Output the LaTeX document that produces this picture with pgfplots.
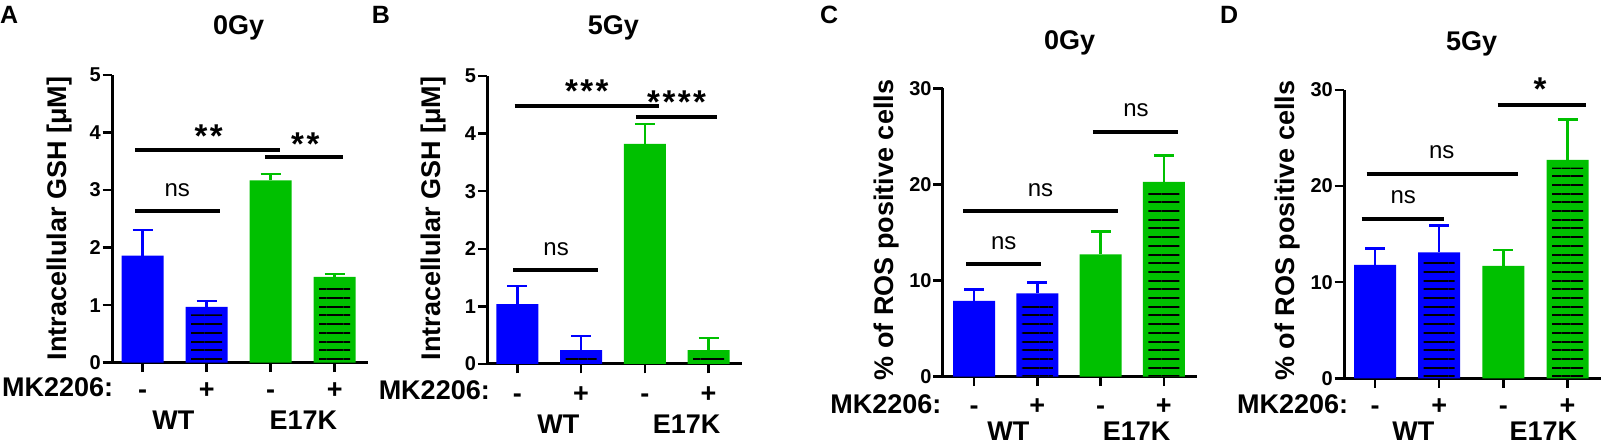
\documentclass[border=0pt]{standalone}
\usepackage{fontspec}
\setmainfont{Liberation Sans}
\usepackage{pgfplots}
\pgfplotsset{compat=1.18}
\usetikzlibrary{patterns.meta}
\definecolor{cblue}{RGB}{0,0,255}
\definecolor{cgreen}{RGB}{0,192,0}
\newcommand{\fs}[1]{\fontsize{#1}{#1}\selectfont}
\tikzset{sig/.style={line width=4pt, black},
  st/.style={font=\fs{33}\bfseries, yshift=-7pt, inner sep=0pt},
  nsl/.style={font=\fs{24}, inner sep=0pt}}
\pgfplotsset{
  panel/.style={
    scale only axis, anchor=south west,
    axis lines*=left, axis line style={line width=3pt},
    ybar, bar width=42pt, bar shift=0pt,
    xtick={1,2,3,4}, xticklabels={-,+,-,+},
    tick align=outside, major tick length=9.5pt,
    tick style={line width=2.5pt, black},
    ymin=0, clip=false,
    /pgf/number format/assume math mode=true,
    yticklabel style={font=\fs{20}\bfseries, inner sep=1.5pt},
    xticklabel style={font=\fs{27}\bfseries, anchor=base, inner sep=0pt},
  },
  bl/.style={fill=cblue, draw=none,
    error bars/.cd, y dir=plus, y explicit,
    error bar style={line width=2.5pt, draw=cblue},
    error mark options={rotate=90, mark size=10pt, line width=2.5pt, draw=cblue}},
  gr/.style={fill=cgreen, draw=none,
    error bars/.cd, y dir=plus, y explicit,
    error bar style={line width=2.5pt, draw=cgreen},
    error mark options={rotate=90, mark size=10pt, line width=2.5pt, draw=cgreen}},
  hatch/.style={bar width=31pt, draw=none, fill=none,
    pattern={Lines[angle=0, distance=8.7pt, line width=2pt]}, pattern color=black,
    y filter/.expression={y-#1}},
}
\begin{document}
\begin{tikzpicture}
\useasboundingbox (0pt,0pt) rectangle (1601pt,446pt);
% ---------- Panel A ----------
\begin{axis}[panel, at={(112pt,83.3pt)}, width=256pt, height=287.7pt,
  xmin=0.52, xmax=4.52, ymax=5, ytick={0,1,2,3,4,5},
  xticklabel style={yshift=-26pt}]
\addplot[bl] coordinates {(1,1.86) +- (0,0.45) (2,0.97) +- (0,0.10)};
\addplot[gr] coordinates {(3,3.17) +- (0,0.11) (4,1.49) +- (0,0.05)};
\addplot[hatch=0.13] coordinates {(2,0.97) (4,1.49)};
\draw[sig] (axis cs:0.88,2.63) -- (axis cs:2.21,2.63);
\draw[sig] (axis cs:0.88,3.70) -- (axis cs:3.15,3.70);
\draw[sig] (axis cs:2.91,3.57) -- (axis cs:4.13,3.57);
\node[nsl] at (axis cs:1.54,3.00) {ns};
\node[st] at (axis cs:2.03,4.06) {*\kern2.5pt*};
\node[st] at (axis cs:3.54,3.92) {*\kern2.5pt*};
\end{axis}
% ---------- Panel B ----------
\begin{axis}[panel, at={(487.3pt,82pt)}, width=254.4pt, height=288pt,
  xmin=0.53, xmax=4.52, ymax=5, ytick={0,1,2,3,4,5},
  xticklabel style={yshift=-29.5pt}]
\addplot[bl] coordinates {(1,1.04) +- (0,0.31) (2,0.24) +- (0,0.25)};
\addplot[gr] coordinates {(3,3.82) +- (0,0.35) (4,0.24) +- (0,0.21)};
\addplot[hatch=0.13] coordinates {(2,0.24) (4,0.24)};
\draw[sig] (axis cs:0.94,1.63) -- (axis cs:2.27,1.63);
\draw[sig] (axis cs:0.96,4.48) -- (axis cs:3.23,4.48);
\draw[sig] (axis cs:2.86,4.28) -- (axis cs:4.13,4.28);
\node[nsl] at (axis cs:1.61,2.00) {ns};
\node[st] at (axis cs:2.09,4.86) {*\kern2.5pt*\kern2.5pt*};
\node[st] at (axis cs:3.50,4.66) {*\kern2.5pt*\kern2.5pt*\kern2.5pt*};
\end{axis}
% ---------- Panel C ----------
\begin{axis}[panel, at={(942.7pt,69.3pt)}, width=254pt, height=288.3pt,
  xmin=0.505, xmax=4.52, ymax=30, ytick={0,10,20,30},
  xticklabel style={yshift=-28.5pt}]
\addplot[bl] coordinates {(1,7.88) +- (0,1.21) (2,8.67) +- (0,1.15)};
\addplot[gr] coordinates {(3,12.73) +- (0,2.36) (4,20.26) +- (0,2.78)};
\addplot[hatch=0.8] coordinates {(2,8.67) (4,20.26)};
\draw[sig] (axis cs:0.88,11.69) -- (axis cs:2.06,11.69);
\draw[sig] (axis cs:0.83,17.24) -- (axis cs:3.27,17.24);
\draw[sig] (axis cs:2.88,25.50) -- (axis cs:4.22,25.50);
\node[nsl] at (axis cs:1.47,13.88) {ns};
\node[nsl] at (axis cs:2.05,19.46) {ns};
\node[nsl] at (axis cs:3.56,27.72) {ns};
\end{axis}
% ---------- Panel D ----------
\begin{axis}[panel, at={(1344pt,67.7pt)}, width=257pt, height=288.3pt,
  xmin=0.517, xmax=4.52, ymax=30, ytick={0,10,20,30},
  xticklabel style={yshift=-27pt}]
\addplot[bl] coordinates {(1,11.79) +- (0,1.74) (2,13.11) +- (0,2.77)};
\addplot[gr] coordinates {(3,11.69) +- (0,1.66) (4,22.72) +- (0,4.23)};
\addplot[hatch=0.8] coordinates {(2,13.11) (4,22.72)};
\draw[sig] (axis cs:0.79,16.58) -- (axis cs:2.08,16.58);
\draw[sig] (axis cs:0.87,21.26) -- (axis cs:3.22,21.26);
\draw[sig] (axis cs:2.91,28.44) -- (axis cs:4.28,28.44);
\node[nsl] at (axis cs:1.44,18.83) {ns};
\node[nsl] at (axis cs:2.04,23.55) {ns};
\node[st] at (axis cs:3.57,30.8) {*};
\end{axis}
% ---------- outer labels ----------
\begin{scope}[every node/.style={font=\fs{27}\bfseries, inner sep=0pt}]
\node[anchor=base west, font=\fs{25}\bfseries] at (0pt,422.7pt) {A};
\node[anchor=base west, font=\fs{25}\bfseries] at (371.7pt,422.7pt) {B};
\node[anchor=base west, font=\fs{25}\bfseries] at (820pt,422.7pt) {C};
\node[anchor=base west, font=\fs{25}\bfseries] at (1220pt,422.7pt) {D};
\node[anchor=base] at (238.7pt,411pt) {0Gy};
\node[anchor=base] at (613.3pt,411pt) {5Gy};
\node[anchor=base] at (1069.7pt,396pt) {0Gy};
\node[anchor=base] at (1471.7pt,395.3pt) {5Gy};
\node[rotate=90, anchor=base] at (66pt,227.7pt) {Intracellular GSH [μM]};
\node[rotate=90, anchor=base] at (440.7pt,227.7pt) {Intracellular GSH [μM]};
\node[rotate=90, anchor=base] at (893.3pt,216pt) {\% of ROS positive cells};
\node[rotate=90, anchor=base] at (1294.3pt,215.2pt) {\% of ROS positive cells};
\node[anchor=base east] at (113.3pt,49.3pt) {MK2206:};
\node[anchor=base east] at (490pt,46pt) {MK2206:};
\node[anchor=base east] at (941.7pt,32.7pt) {MK2206:};
\node[anchor=base east] at (1348.3pt,32.7pt) {MK2206:};
\node[anchor=base] at (173.3pt,16pt) {WT};
\node[anchor=base] at (303.3pt,16pt) {E17K};
\node[anchor=base] at (558.3pt,12.7pt) {WT};
\node[anchor=base] at (686.7pt,12.7pt) {E17K};
\node[anchor=base] at (1008.3pt,5pt) {WT};
\node[anchor=base] at (1136.7pt,5pt) {E17K};
\node[anchor=base] at (1413.3pt,5pt) {WT};
\node[anchor=base] at (1543.3pt,5pt) {E17K};
\end{scope}
\end{tikzpicture}
\end{document}
